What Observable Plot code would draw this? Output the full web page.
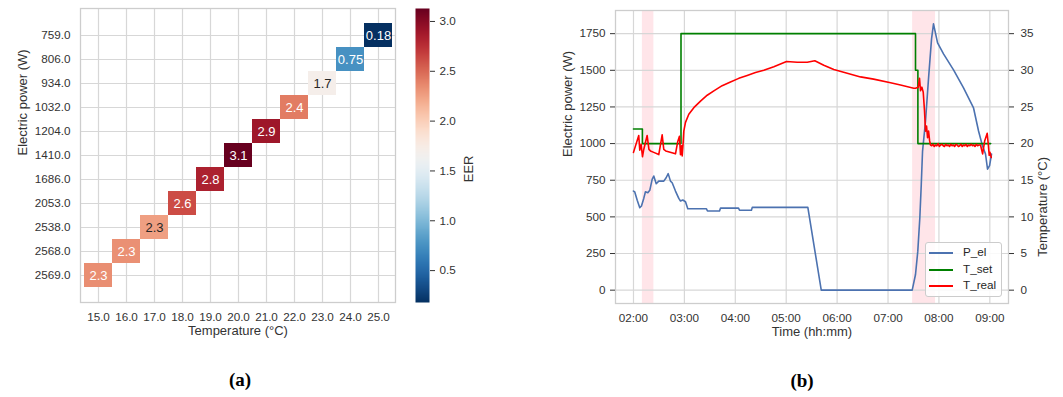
<!DOCTYPE html>
<html>
<head>
<meta charset="utf-8">
<script src="https://cdn.jsdelivr.net/npm/d3@7"></script>
<script src="https://cdn.jsdelivr.net/npm/@observablehq/plot@0.6"></script>
<style>
  html, body { margin: 0; padding: 0; background: #fff; }
  #wrap { position: relative; width: 1063px; height: 397px; overflow: hidden; font-family: "Liberation Sans", Arial, sans-serif; }
  .panel { position: absolute; top: 0; }
  .tag { position: absolute; font-family: "Liberation Serif", "Times New Roman", serif; font-weight: bold; font-size: 19px; color: #000; transform: translate(-50%, -50%); white-space: nowrap; }
  #legend { position: absolute; left: 925px; top: 242px; width: 77px; height: 55px; box-sizing: border-box;
            border: 1px solid #cccccc; border-radius: 3px; background: rgba(255,255,255,0.85); }
  .lg-row { position: absolute; left: 0; height: 14px; width: 76px; }
  .lg-line { position: absolute; left: 3px; top: 6px; width: 24px; height: 2px; }
  .lg-text { position: absolute; left: 37px; top: -1px; font-size: 11.7px; color: #262626; line-height: 14px; }
</style>
</head>
<body>
<div id="wrap"></div>
<script>
// ---------------- Panel (a) data: EER heatmap ----------------
const temps  = [15, 16, 17, 18, 19, 20, 21, 22, 23, 24, 25];            // Temperature (°C)
const powers = [2569, 2568, 2538, 2053, 1686, 1410, 1204, 1032, 934, 806, 759]; // Electric power (W)
const eer    = [2.34, 2.33, 2.26, 2.62, 2.83, 3.13, 2.90, 2.42, 1.70, 0.75, 0.18];
const powerOrder = [759, 806, 934, 1032, 1204, 1410, 1686, 2053, 2538, 2568, 2569];
const eerTicks = [0.5, 1.0, 1.5, 2.0, 2.5, 3.0];

// ---------------- Panel (b) data: time series ----------------
// times in minutes after 02:00
const pTime = [0, 1.5, 4.4, 7.4, 9.4, 12.1, 14.1, 16.9, 19.2, 22, 23.9, 26.8, 29.8, 35.7, 38.5, 40.9, 43.6, 45.6,
               49.5, 53.4, 55.4, 58.1, 61.3, 64, 86, 87.2, 101.4, 102.6, 123.8, 125, 139, 140, 205.5, 221.3,
               328.5, 332.4, 335.1, 337.5, 339.2, 340.7, 344.2, 347.8, 351.3, 353.6, 358.4, 365.4, 377.2,
               389, 400.8, 406.7, 411.4, 414.9, 417.3, 419.7, 422];
const pEl   = [676, 670, 613, 562, 574, 626, 671, 665, 681, 756, 779, 726, 744, 744, 767, 795, 744, 733,
               676, 626, 608, 615, 603, 555, 555, 540, 540, 560, 560, 545, 545, 565, 565, 0,
               0, 107, 266, 494, 722, 949, 1154, 1448, 1714, 1817, 1687, 1612, 1503,
               1380, 1243, 1086, 983, 929, 826, 850, 929];

const setTime = [0, 10.5, 56, 332.4, 335.2, 421];
const tSet    = [22, 20, 35, 30, 20, 20];

const realTime = [0, 6.2, 7.4, 9.0, 10.6, 12.1, 16.1, 18.2, 20, 23.9, 29.8, 33.8, 35.7, 38, 49.5, 52.2, 54.2, 55.4, 56.6, 57.4,
                  58.4, 59.3, 61.3, 65.2, 71.1, 79, 86.9, 94.7, 104.5, 114.3, 124.1, 134, 143.8, 153.6, 165.4, 180.4,
                  193, 204.8, 213.7, 224.3, 236.1, 251.9, 267.6, 283, 303, 314.7, 330.4,
                  332.4, 335.6, 337.1, 338.3, 339.9, 341.5, 343, 344.2, 345.4, 346.6, 347.8, 349, 350.1,
                  351.5, 353, 354.5, 356, 357.5, 359, 360.5, 362, 363.5, 365, 366.5, 368, 369.5, 371, 372.5, 374,
                  375.5, 377, 378.5, 380, 381.5, 383, 384.5, 386, 387.5, 389, 390.5, 392, 393.5, 395, 396.5, 398,
                  399.5, 401, 402.5, 404, 405.5, 407.5,
                  409, 411.5, 414, 416.9, 418.2, 419.3, 420.2, 421.7];
const tReal    = [18.8, 21.1, 19.1, 19.9, 18.2, 19.2, 21.1, 19.2, 19.0, 18.8, 18.5, 21.2, 19.2, 19.0, 18.6, 20.3, 21.0, 18.5, 19.7, 18.3,
                  19.9, 21.7, 22.9, 24.0, 24.9, 25.8, 26.6, 27.2, 27.9, 28.4, 28.9, 29.3, 29.7, 30.0, 30.5, 31.2,
                  31.1, 31.1, 31.3, 30.7, 30.1, 29.6, 29.1, 28.8, 28.3, 28.0, 27.55,
                  27.55, 27.7, 28.9, 27.2, 27.7, 27.0, 24.5, 21.7, 22.4, 20.8, 21.7, 20.4, 19.8,
                  19.7, 19.9, 19.6, 19.8, 19.7, 20.0, 19.6, 19.8, 19.9, 19.7, 19.6, 19.9, 19.7, 19.8, 19.6, 19.9,
                  19.7, 19.8, 19.6, 19.9, 19.8, 19.6, 19.7, 19.9, 19.6, 19.8, 19.7, 19.9, 19.6, 19.8, 19.7, 19.9,
                  19.7, 19.8, 19.6, 19.9, 19.7, 19.8,
                  19.8, 18.6, 20.4, 21.4, 19.9, 18.4, 18.8, 18.1];

const shadeStart = [10.5, 329];
const shadeEnd   = [24, 356];

const hourLabels = ["02:00", "03:00", "04:00", "05:00", "06:00", "07:00", "08:00", "09:00"];
const powerTicks = [0, 250, 500, 750, 1000, 1250, 1500, 1750];
const tempTicks  = [0, 5, 10, 15, 20, 25, 30, 35];
const xDomainMin = [-21.2, 442];   // minutes after 02:00 shown on the x axis
const yDomainW   = [-91, 1908];

const seriesNames  = ["P_el", "T_set", "T_real"];
const seriesColors = ["#4c72b0", "#008000", "#ff0000"];

// ---------------- helpers ----------------
const wrap = document.getElementById("wrap");
const FONT = "'Liberation Sans', Arial, sans-serif";
const TXT = "#333333";
const GRID = "#d7d7d7";
const FRAME = "#cdcdcd";
const TICK_FS = 11.7;
const LABEL_FS = 13;
const baseStyle = {fontFamily: FONT, fontSize: TICK_FS + "px", color: TXT, background: "transparent", overflow: "visible"};

function place(node, left) {
  node.classList.add("panel");
  node.style.left = left + "px";
  wrap.appendChild(node);
}

// ---------------- Panel (a) ----------------
const [eLo, eHi] = d3.extent(eer);
const colorOpts = {type: "linear", scheme: "rdbu", reverse: true, domain: [eLo, eHi]};
const cells = temps.map((t, i) => ({temp: t, power: powers[i], eer: eer[i]}));
const fmt2 = d3.format(".2");
function lum(v) {
  const c = d3.rgb(d3.interpolateRdBu(1 - (v - eLo) / (eHi - eLo)));
  const f = u => { u /= 255; return u <= 0.03928 ? u / 12.92 : Math.pow((u + 0.055) / 1.055, 2.4); };
  return 0.2126 * f(c.r) + 0.7152 * f(c.g) + 0.0722 * f(c.b);
}
const textFill = v => (lum(v) > 0.408 ? "#262626" : "#ffffff");

const heat = Plot.plot({
  width: 400, height: 345,
  marginLeft: 80, marginRight: 5, marginTop: 8, marginBottom: 43,
  style: baseStyle,
  x: {type: "band", domain: temps, padding: 0},
  y: {type: "band", domain: powerOrder, paddingInner: 0, paddingOuter: 0.53},
  color: colorOpts,
  marks: [
    Plot.gridX({stroke: GRID, strokeOpacity: 1, strokeWidth: 1.2}),
    Plot.gridY({stroke: GRID, strokeOpacity: 1, strokeWidth: 1.2}),
    Plot.cell(cells, {x: "temp", y: "power", fill: "eer"}),
    Plot.text(cells, {x: "temp", y: "power", text: d => fmt2(d.eer), fill: d => textFill(d.eer), fontSize: 13}),
    Plot.frame({stroke: FRAME, strokeWidth: 1.3}),
    Plot.axisX({tickSize: 0, tickPadding: 10, tickFormat: d => d.toFixed(1), label: null, fill: TXT, fontSize: TICK_FS}),
    Plot.axisY({tickSize: 0, tickPadding: 10, tickFormat: d => d.toFixed(1), label: null, fill: TXT, fontSize: TICK_FS}),
    Plot.text(["Temperature (°C)"], {frameAnchor: "bottom", dy: 32, fontSize: LABEL_FS, fill: TXT}),
    Plot.text(["Electric power (W)"], {frameAnchor: "left", dx: -58, rotate: -90, fontSize: LABEL_FS, fill: TXT})
  ]
});
place(heat, 0);

// colour bar
const cbar = Plot.plot({
  width: 90, height: 345,
  marginLeft: 15, marginRight: 61, marginTop: 8, marginBottom: 43,
  style: baseStyle,
  x: {domain: [0, 1], axis: null},
  y: {domain: [eLo, eHi]},
  color: colorOpts,
  marks: [
    Plot.raster({x1: 0, x2: 1, y1: eLo, y2: eHi, width: 1, height: 300, fill: (x, y) => y, imageRendering: "auto"}),
    Plot.axisY({anchor: "right", ticks: eerTicks, tickFormat: d => d.toFixed(1), tickSize: 5, tickPadding: 5, label: null, fill: TXT, stroke: TXT, fontSize: TICK_FS}),
    Plot.text(["EER"], {frameAnchor: "right", dx: 39, rotate: -90, fontSize: LABEL_FS, fill: TXT})
  ]
});
place(cbar, 400);

// ---------------- Panel (b) ----------------
const t0 = Date.UTC(2021, 0, 1, 2, 0);
const toDate = m => new Date(t0 + m * 60000);
const parseHM = d3.utcParse("%Y-%m-%d %H:%M");
const hourTicks = hourLabels.map(s => parseHM("2021-01-01 " + s));
const pData = pTime.map((m, i) => ({time: toDate(m), v: pEl[i]}));
const setData = setTime.map((m, i) => ({time: toDate(m), t: tSet[i]}));
const realData = realTime.map((m, i) => ({time: toDate(m), t: tReal[i]}));
const shades = shadeStart.map((s, i) => ({start: toDate(s), end: toDate(shadeEnd[i])}));
const W_PER_DEG = 50; // right axis: 1 °C corresponds to 50 W on the left axis

const line = Plot.plot({
  width: 533, height: 345,
  marginLeft: 85, marginRight: 55, marginTop: 10, marginBottom: 42,
  style: baseStyle,
  x: {type: "utc", domain: xDomainMin.map(toDate)},
  y: {domain: yDomainW},
  marks: [
    Plot.rect(shades, {x1: "start", x2: "end", fill: "pink", fillOpacity: 0.42}),
    Plot.gridX(hourTicks, {stroke: GRID, strokeOpacity: 1, strokeWidth: 1.2}),
    Plot.gridY(powerTicks, {stroke: GRID, strokeOpacity: 1, strokeWidth: 1.2}),
    Plot.frame({stroke: FRAME, strokeWidth: 1.3}),
    Plot.line(pData, {x: "time", y: "v", stroke: seriesColors[0], strokeWidth: 1.6}),
    Plot.line(setData, {x: "time", y: d => d.t * W_PER_DEG, curve: "step-after", stroke: seriesColors[1], strokeWidth: 1.6}),
    Plot.line(realData, {x: "time", y: d => d.t * W_PER_DEG, stroke: seriesColors[2], strokeWidth: 1.6}),
    Plot.axisX({ticks: hourTicks, tickFormat: d3.utcFormat("%H:%M"), tickSize: 0, tickPadding: 10, label: null, fill: TXT, fontSize: TICK_FS}),
    Plot.axisY({ticks: powerTicks, tickFormat: d => String(d), tickSize: 5, tickPadding: 5, label: null, fill: TXT, stroke: TXT, fontSize: TICK_FS}),
    Plot.axisY({anchor: "right", ticks: tempTicks.map(t => t * W_PER_DEG), tickFormat: d => String(d / W_PER_DEG), tickSize: 5, tickPadding: 7, label: null, fill: TXT, stroke: TXT, fontSize: TICK_FS}),
    Plot.text(["Time (hh:mm)"], {frameAnchor: "bottom", dy: 32, fontSize: LABEL_FS, fill: TXT}),
    Plot.text(["Electric power (W)"], {frameAnchor: "left", dx: -48, rotate: -90, fontSize: LABEL_FS, fill: TXT}),
    Plot.text(["Temperature (°C)"], {frameAnchor: "right", dx: 34, rotate: -90, fontSize: LABEL_FS, fill: TXT})
  ]
});
place(line, 530);

// legend
const legend = document.createElement("div");
legend.id = "legend";
seriesNames.forEach((name, i) => {
  const row = document.createElement("div");
  row.className = "lg-row";
  row.style.top = (3 + i * 16.5) + "px";
  const ln = document.createElement("div");
  ln.className = "lg-line";
  ln.style.background = seriesColors[i];
  const tx = document.createElement("div");
  tx.className = "lg-text";
  tx.textContent = name;
  row.appendChild(ln); row.appendChild(tx);
  legend.appendChild(row);
});
wrap.appendChild(legend);

// panel tags
[["(a)", 240, 380], ["(b)", 802, 381]].forEach(([s, x, y]) => {
  const d = document.createElement("div");
  d.className = "tag";
  d.textContent = s;
  d.style.left = x + "px";
  d.style.top = y + "px";
  wrap.appendChild(d);
});
</script>
</body>
</html>
